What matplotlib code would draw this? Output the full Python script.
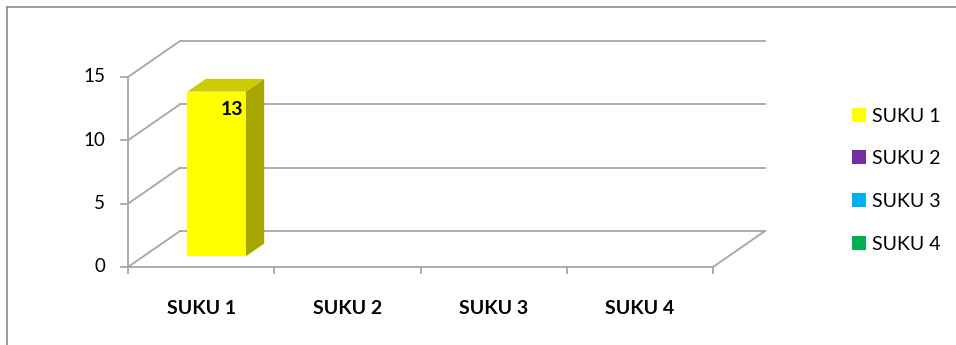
import matplotlib
matplotlib.use("Agg")
import matplotlib.pyplot as plt
from matplotlib.patches import Polygon, Patch
from matplotlib.lines import Line2D

plt.rcParams['font.family'] = ['Lato', 'DejaVu Sans']

categories = ["SUKU 1", "SUKU 2", "SUKU 3", "SUKU 4"]
values = [13, 0, 0, 0]
colors = ["#FFFF00", "#7030A0", "#00B0F0", "#00B050"]
side_colors = ["#A6A600", "#4B2070", "#0078A8", "#007838"]
top_colors = ["#CCCC00", "#5A2880", "#008CC0", "#008C44"]
yticks = [0, 5, 10, 15]

W, H = 956, 345
fig = plt.figure(figsize=(W / 100, H / 100), dpi=100)
ax = fig.add_axes([128 / W, 1 - 267 / H, (713 - 128) / W, (267 - 77) / H])
ax.set_xlim(0, len(categories))
ax.set_ylim(0, 15)
ax.axis("off")

# depth of the fake 3d box, in data units
DX = 52 / (585 / 4)
DY = 36 / (190 / 15)
grid = "#A6A6A6"

# back wall gridlines and left wall diagonals
for v in yticks:
    ax.plot([DX, len(categories) + DX], [v + DY, v + DY], color=grid, lw=1.3, clip_on=False)
    ax.plot([0, DX], [v, v + DY], color=grid, lw=1.3, clip_on=False)
# floor
ax.plot([0, len(categories)], [0, 0], color=grid, lw=1.3, clip_on=False)
ax.plot([len(categories), len(categories) + DX], [0, DY], color=grid, lw=1.3, clip_on=False)
# front value axis
ax.plot([0, 0], [0, 15], color=grid, lw=1.3, clip_on=False)
for v in yticks:
    ax.plot([-0.045, 0], [v, v], color=grid, lw=1.3, clip_on=False)
    ax.text(-0.155, v, str(v), ha="right", va="center", fontsize=13.5, color="#000000")
for i in range(len(categories) + 1):
    ax.plot([i, i], [0, -0.5], color=grid, lw=1.3, clip_on=False)
for i, c in enumerate(categories):
    ax.text(i + 0.5, -3.3, c, ha="center", va="center", fontsize=14,
            fontweight="bold", color="#000000")

# bars
bw = 0.4
f0, f1 = 0.3, 0.65
for i, v in enumerate(values):
    if v == 0:
        continue
    x0 = i + 0.5 - bw / 2 + f0 * DX
    x1 = i + 0.5 + bw / 2 + f0 * DX
    b0 = f0 * DY
    ddx = (f1 - f0) * DX
    ddy = (f1 - f0) * DY
    ax.bar(x0, v, width=bw, bottom=b0, align="edge", color=colors[i], clip_on=False, zorder=3)
    ax.add_patch(Polygon([(x1, b0), (x1 + ddx, b0 + ddy), (x1 + ddx, b0 + v + ddy), (x1, b0 + v)],
                         closed=True, facecolor=side_colors[i], edgecolor="none", clip_on=False, zorder=3))
    ax.add_patch(Polygon([(x0, b0 + v), (x1, b0 + v), (x1 + ddx, b0 + v + ddy), (x0 + ddx, b0 + v + ddy)],
                         closed=True, facecolor=top_colors[i], edgecolor="none", clip_on=False, zorder=3))
    ax.text(x1 - 0.095, b0 + v - 1.4, str(v), ha="center", va="center", fontsize=14,
            fontweight="bold", color="#000000", zorder=4)

handles = [Patch(facecolor=c, edgecolor="none") for c in colors]
fig.legend(handles, categories, loc="upper left", bbox_to_anchor=(852 / W, 1 - 107.5 / H),
           frameon=False, fontsize=14, handlelength=0.72, handleheight=0.72,
           handletextpad=0.31, labelspacing=1.32, borderpad=0, borderaxespad=0)

# chart border (only top and left edges visible)
fig.add_artist(Line2D([7 / W, 7 / W], [0, 1 - 7 / H], color="#8C8C8C", lw=1.2))
fig.add_artist(Line2D([7 / W, 1], [1 - 7 / H, 1 - 7 / H], color="#8C8C8C", lw=1.2))

fig.savefig("out.png", dpi=100)
